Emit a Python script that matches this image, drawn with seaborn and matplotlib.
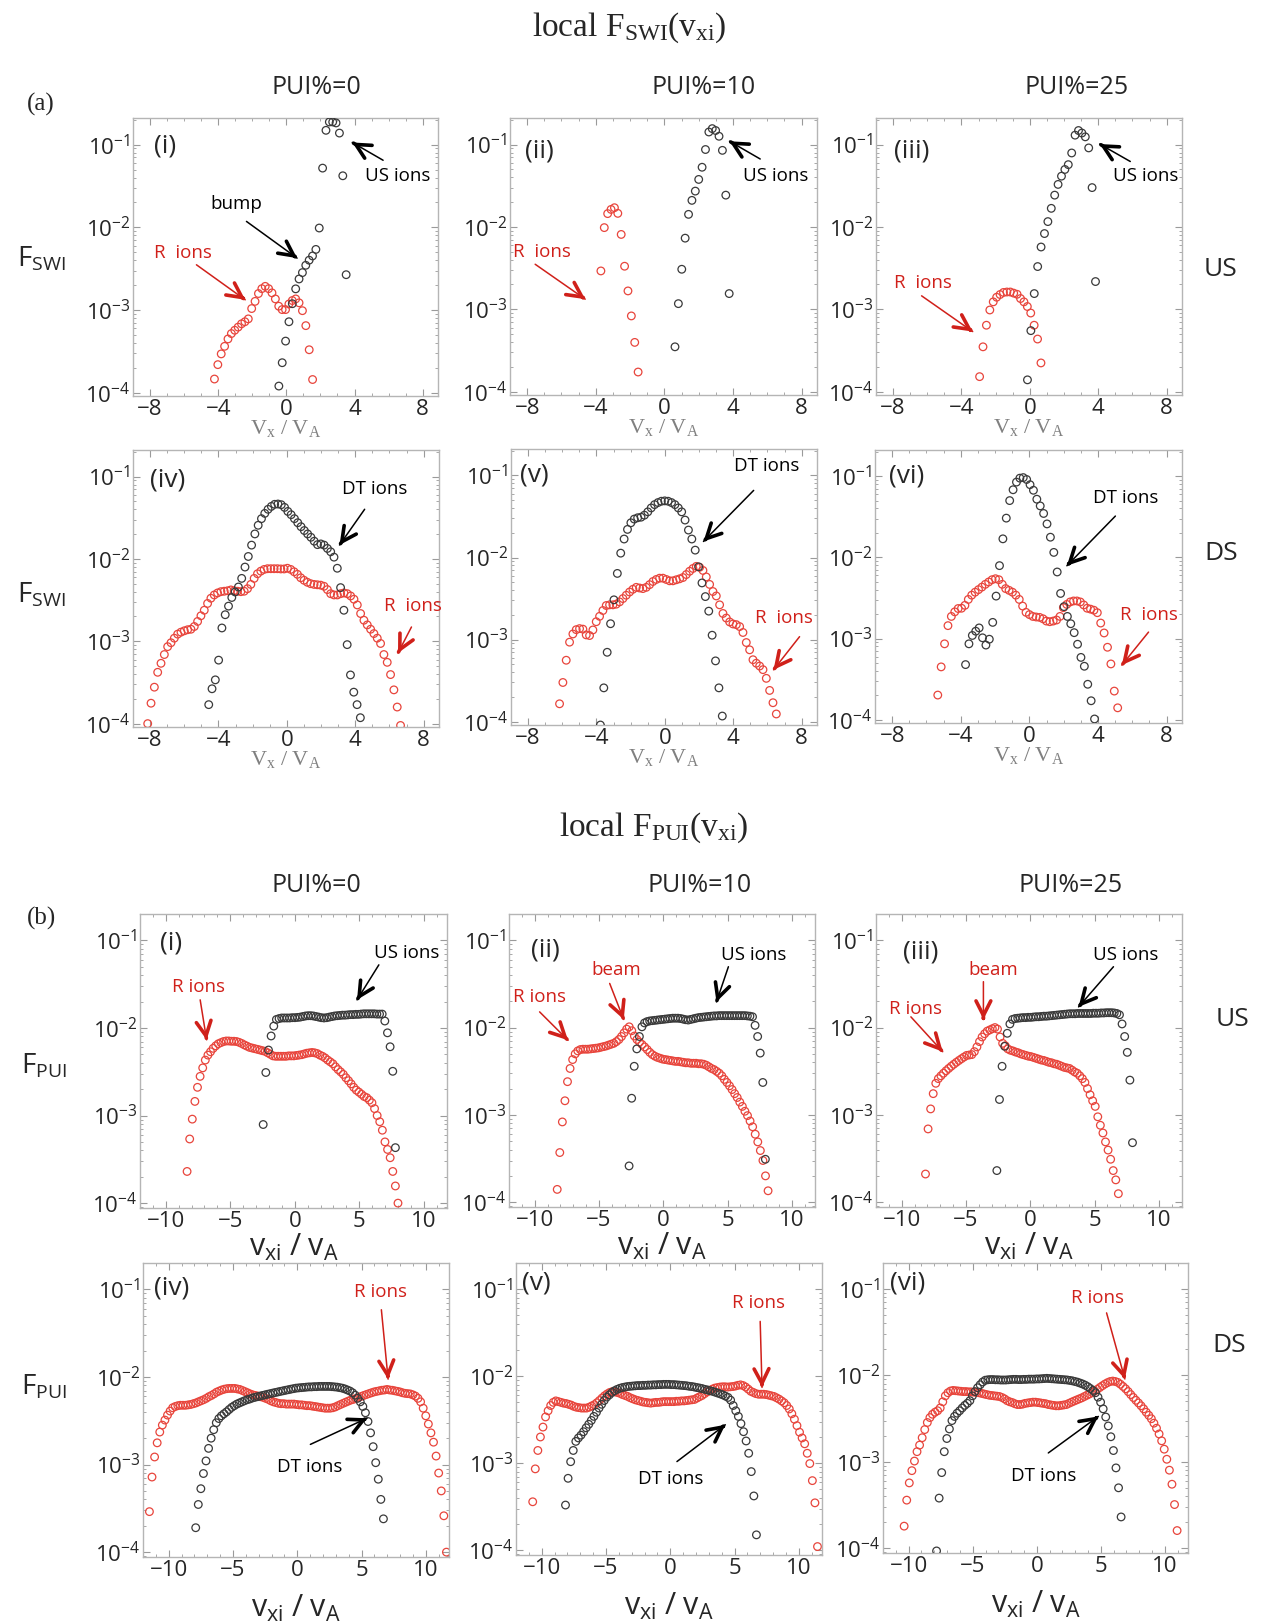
import numpy as np
import matplotlib.pyplot as plt
import seaborn as sns
from matplotlib.ticker import FuncFormatter, LogLocator, NullFormatter, AutoMinorLocator

sns.set_style('ticks')
plt.rcParams['font.family'] = ['Open Sans', 'DejaVu Sans']
plt.rcParams['mathtext.fontset'] = 'custom'
plt.rcParams['mathtext.rm'] = 'Liberation Serif'
plt.rcParams['mathtext.it'] = 'Liberation Serif:italic'
plt.rcParams['mathtext.bf'] = 'Liberation Serif:bold'
plt.rcParams['mathtext.sf'] = 'Open Sans'

BLK = '#3a3a3a'
RED = '#e8453c'
TRED = '#d0201a'

# ---- (a) local F_SWI, each series: first v, last v, values on a regular v grid ----
a1_us = (-0.44, 3.51, [1.2e-4, 2.3e-4, 4.2e-4, 7.2e-4, 1.19e-3, 1.8e-3, 2.37e-3, 2.83e-3, 3.47e-3, 4.0e-3,
                       4.5e-3, 5.4e-3, 9.8e-3, 5.2e-2, 0.149, 0.188, 0.188, 0.183, 0.138, 0.042, 2.67e-3])
a1_r = (-4.22, 1.54, [1.46e-4, 2.18e-4, 2.94e-4, 3.63e-4, 4.46e-4, 5.18e-4, 5.68e-4, 6.2e-4, 6.8e-4, 7.2e-4,
                      7.8e-4, 1.04e-3, 1.27e-3, 1.58e-3, 1.81e-3, 1.93e-3, 1.81e-3, 1.61e-3, 1.36e-3, 1.11e-3,
                      1.01e-3, 1.01e-3, 1.18e-3, 1.3e-3, 1.36e-3, 1.22e-3, 9.8e-4, 6.46e-4, 3.3e-4, 1.44e-4])
a2_us = (0.62, 3.78, [3.5e-4, 1.17e-3, 3.06e-3, 7.3e-3, 1.42e-2, 2.1e-2, 2.72e-2, 3.77e-2, 5.3e-2, 8.7e-2,
                      0.142, 0.156, 0.148, 0.126, 8.5e-2, 2.43e-2, 1.55e-3])
a2_r = (-3.70, -1.53, [2.92e-3, 9.8e-3, 1.45e-2, 1.63e-2, 1.71e-2, 1.46e-2, 8.1e-3, 3.33e-3, 1.67e-3, 8.3e-4,
                       3.96e-4, 1.73e-4])
a3_us = (-0.14, 3.84, [1.39e-4, 5.5e-4, 1.55e-3, 3.3e-3, 5.7e-3, 8.3e-3, 1.16e-2, 1.68e-2, 2.43e-2, 3.28e-2,
                       4.13e-2, 4.98e-2, 5.7e-2, 7.9e-2, 0.13, 0.148, 0.138, 0.124, 9.1e-2, 3.0e-2, 2.17e-3])
a3_r = (-2.94, 0.65, [1.52e-4, 3.5e-4, 6.4e-4, 9.8e-4, 1.23e-3, 1.4e-3, 1.51e-3, 1.6e-3, 1.62e-3, 1.62e-3,
                      1.57e-3, 1.52e-3, 1.35e-3, 1.23e-3, 1.08e-3, 9.0e-4, 6.4e-4, 4.35e-4, 2.23e-4])
a4_dt = (-4.57, 4.30, [1.7e-4, 2.65e-4, 3.4e-4, 5.9e-4, 1.45e-3, 2.1e-3, 2.67e-3, 3.4e-3, 3.97e-3, 4.56e-3,
                       5.8e-3, 7.96e-3, 1.07e-2, 1.47e-2, 2.01e-2, 2.56e-2, 3.08e-2, 3.57e-2, 4.0e-2, 4.34e-2,
                       4.6e-2, 4.64e-2, 4.55e-2, 4.22e-2, 3.77e-2, 3.44e-2, 3.08e-2, 2.75e-2, 2.46e-2, 2.21e-2,
                       2.01e-2, 1.83e-2, 1.64e-2, 1.49e-2, 1.52e-2, 1.47e-2, 1.34e-2, 1.22e-2, 1.05e-2, 7.7e-3,
                       4.48e-3, 2.38e-3, 9.1e-4, 3.9e-4, 2.41e-4, 1.7e-4, 1.18e-4])
a4_r = (-8.14, 6.65, [1.0e-4, 1.77e-4, 2.77e-4, 4.2e-4, 5.4e-4, 6.9e-4, 8.6e-4, 9.6e-4, 1.09e-3, 1.22e-3,
                      1.29e-3, 1.34e-3, 1.38e-3, 1.4e-3, 1.51e-3, 1.74e-3, 2.04e-3, 2.38e-3, 2.88e-3, 3.33e-3,
                      3.65e-3, 3.86e-3, 4.0e-3, 4.05e-3, 4.1e-3, 4.2e-3, 4.1e-3, 4.05e-3, 4.0e-3, 4.05e-3,
                      4.35e-3, 4.9e-3, 5.8e-3, 6.6e-3, 7.1e-3, 7.45e-3, 7.6e-3, 7.6e-3, 7.6e-3, 7.6e-3,
                      7.55e-3, 7.55e-3, 7.7e-3, 7.45e-3, 6.98e-3, 6.5e-3, 5.9e-3, 5.5e-3, 5.2e-3, 5.0e-3,
                      4.9e-3, 4.85e-3, 4.8e-3, 4.65e-3, 4.24e-3, 3.78e-3, 3.65e-3, 3.65e-3, 3.78e-3, 3.86e-3,
                      3.78e-3, 3.55e-3, 3.24e-3, 2.76e-3, 2.17e-3, 1.8e-3, 1.58e-3, 1.4e-3, 1.24e-3, 1.09e-3,
                      9.4e-4, 6.9e-4, 5.55e-4, 3.94e-4, 2.57e-4, 1.59e-4, 9.5e-5])
a5_dt = (-3.77, 3.36, [9.1e-5, 2.58e-4, 7.0e-4, 1.56e-3, 3.05e-3, 6.4e-3, 1.13e-2, 1.68e-2, 2.2e-2, 2.65e-2,
                       2.94e-2, 3.05e-2, 3.1e-2, 3.28e-2, 3.6e-2, 4.02e-2, 4.41e-2, 4.67e-2, 4.85e-2, 4.9e-2,
                       4.85e-2, 4.67e-2, 4.41e-2, 4.02e-2, 3.6e-2, 2.86e-2, 2.16e-2, 1.68e-2, 1.23e-2, 7.7e-3,
                       4.9e-3, 3.34e-3, 2.22e-3, 1.13e-3, 5.5e-4, 2.58e-4, 1.17e-4])
a5_r = (-6.16, 6.52, [1.65e-4, 3.0e-4, 5.6e-4, 9.3e-4, 1.17e-3, 1.32e-3, 1.36e-3, 1.34e-3, 1.14e-3, 1.12e-3,
                      1.31e-3, 1.65e-3, 1.92e-3, 2.26e-3, 2.6e-3, 2.65e-3, 2.65e-3, 2.7e-3, 2.88e-3, 3.16e-3,
                      3.47e-3, 3.8e-3, 4.1e-3, 4.33e-3, 4.25e-3, 4.18e-3, 4.33e-3, 4.67e-3, 5.1e-3, 5.4e-3,
                      5.6e-3, 5.6e-3, 5.4e-3, 5.2e-3, 5.2e-3, 5.35e-3, 5.5e-3, 5.7e-3, 6.2e-3, 6.8e-3,
                      7.35e-3, 7.8e-3, 7.6e-3, 6.96e-3, 5.8e-3, 4.7e-3, 3.85e-3, 3.4e-3, 2.65e-3, 2.08e-3,
                      1.83e-3, 1.64e-3, 1.55e-3, 1.52e-3, 1.44e-3, 1.22e-3, 9.2e-4, 7.5e-4, 5.68e-4, 5.15e-4,
                      4.76e-4, 4.3e-4, 3.37e-4, 2.4e-4, 1.7e-4, 1.24e-4])
a6_dt = (-3.72, 3.80, [4.77e-4, 8.6e-4, 1.09e-3, 1.23e-3, 1.35e-3, 1.02e-3, 8.3e-4, 9.8e-4, 1.58e-3, 3.33e-3,
                       7.9e-3, 1.69e-2, 3.04e-2, 5.0e-2, 6.8e-2, 8.45e-2, 9.45e-2, 9.6e-2, 9.1e-2, 7.85e-2,
                       6.7e-2, 5.2e-2, 4.3e-2, 3.47e-2, 2.58e-2, 1.77e-2, 1.15e-2, 6.6e-3, 3.59e-3, 2.47e-3,
                       1.87e-3, 1.52e-3, 1.18e-3, 8.5e-4, 5.85e-4, 4.55e-4, 2.73e-4, 1.71e-4, 1.02e-4])
a6_r = (-5.34, 5.15, [2.01e-4, 4.47e-4, 8.6e-4, 1.44e-3, 1.87e-3, 2.13e-3, 2.34e-3, 2.36e-3, 2.56e-3, 3.03e-3,
                      3.42e-3, 3.72e-3, 4.0e-3, 4.3e-3, 4.65e-3, 4.97e-3, 5.3e-3, 5.45e-3, 5.3e-3, 4.65e-3,
                      4.12e-3, 3.92e-3, 3.72e-3, 3.42e-3, 3.03e-3, 2.51e-3, 2.1e-3, 1.97e-3, 1.87e-3, 1.84e-3,
                      1.82e-3, 1.75e-3, 1.64e-3, 1.61e-3, 1.64e-3, 1.69e-3, 1.87e-3, 2.4e-3, 2.63e-3, 2.82e-3,
                      2.9e-3, 2.9e-3, 2.82e-3, 2.59e-3, 2.36e-3, 2.3e-3, 2.23e-3, 2.08e-3, 1.55e-3, 1.17e-3,
                      7.8e-4, 4.86e-4, 2.25e-4, 1.4e-4])

# ---- (b) local F_PUI ----
b1_us = (-2.45, 7.80, [7.9e-4, 3.1e-3, 5.6e-3, 8.1e-3, 1.05e-2, 1.25e-2, 1.28e-2, 1.3e-2, 1.3e-2, 1.3e-2,
                       1.3e-2, 1.31e-2, 1.31e-2, 1.32e-2, 1.33e-2, 1.35e-2, 1.37e-2, 1.38e-2, 1.38e-2, 1.37e-2,
                       1.35e-2, 1.33e-2, 1.31e-2, 1.3e-2, 1.31e-2, 1.33e-2, 1.35e-2, 1.37e-2, 1.38e-2, 1.39e-2,
                       1.4e-2, 1.4e-2, 1.41e-2, 1.42e-2, 1.42e-2, 1.43e-2, 1.43e-2, 1.44e-2, 1.45e-2, 1.45e-2,
                       1.45e-2, 1.45e-2, 1.45e-2, 1.44e-2, 1.44e-2, 1.44e-2, 1.2e-2, 8.8e-3, 6.1e-3, 3.2e-3,
                       4.3e-4])
b1_r = (-8.35, 8.00, [2.3e-4, 5.4e-4, 9.1e-4, 1.45e-3, 2.1e-3, 2.8e-3, 3.5e-3, 4.3e-3, 4.9e-3, 5.35e-3,
                      5.85e-3, 6.25e-3, 6.6e-3, 6.8e-3, 7.0e-3, 7.1e-3, 7.1e-3, 7.05e-3, 7.05e-3, 7.0e-3,
                      6.85e-3, 6.65e-3, 6.4e-3, 6.2e-3, 6.0e-3, 5.9e-3, 5.8e-3, 5.7e-3, 5.6e-3, 5.5e-3,
                      5.4e-3, 5.2e-3, 5.0e-3, 4.8e-3, 4.75e-3, 4.75e-3, 4.75e-3, 4.75e-3, 4.75e-3, 4.8e-3,
                      4.8e-3, 4.8e-3, 4.85e-3, 4.9e-3, 4.95e-3, 5.05e-3, 5.15e-3, 5.2e-3, 5.25e-3, 5.2e-3,
                      5.1e-3, 4.9e-3, 4.75e-3, 4.55e-3, 4.3e-3, 4.1e-3, 3.9e-3, 3.6e-3, 3.35e-3, 3.15e-3,
                      2.95e-3, 2.7e-3, 2.5e-3, 2.3e-3, 2.1e-3, 1.95e-3, 1.85e-3, 1.75e-3, 1.65e-3, 1.6e-3,
                      1.5e-3, 1.4e-3, 1.2e-3, 1.0e-3, 8.5e-4, 6.8e-4, 5.0e-4, 4.1e-4, 3.3e-4, 2.3e-4,
                      1.57e-4, 1.0e-4])
b2_us = (-2.66, 7.94, [2.6e-4, 1.55e-3, 3.6e-3, 5.7e-3, 7.9e-3, 1.02e-2, 1.13e-2, 1.17e-2, 1.19e-2, 1.2e-2,
                       1.21e-2, 1.22e-2, 1.23e-2, 1.24e-2, 1.25e-2, 1.26e-2, 1.27e-2, 1.28e-2, 1.28e-2, 1.28e-2,
                       1.27e-2, 1.25e-2, 1.23e-2, 1.22e-2, 1.24e-2, 1.26e-2, 1.28e-2, 1.3e-2, 1.31e-2, 1.32e-2,
                       1.33e-2, 1.34e-2, 1.35e-2, 1.36e-2, 1.36e-2, 1.37e-2, 1.37e-2, 1.37e-2, 1.37e-2, 1.37e-2,
                       1.37e-2, 1.37e-2, 1.37e-2, 1.37e-2, 1.37e-2, 1.37e-2, 1.36e-2, 1.35e-2, 1.33e-2, 1.06e-2,
                       7.9e-3, 5.1e-3, 2.35e-3, 3.1e-4])
b2_r = (-8.25, 8.15, [1.4e-4, 3.7e-4, 8.3e-4, 1.45e-3, 2.4e-3, 3.4e-3, 4.3e-3, 5.0e-3, 5.4e-3, 5.6e-3,
                      5.65e-3, 5.65e-3, 5.65e-3, 5.7e-3, 5.75e-3, 5.8e-3, 5.85e-3, 5.95e-3, 6.05e-3, 6.15e-3,
                      6.3e-3, 6.45e-3, 6.6e-3, 6.9e-3, 7.3e-3, 7.9e-3, 8.7e-3, 9.6e-3, 1.02e-2, 9.2e-3,
                      8.0e-3, 7.3e-3, 6.8e-3, 6.4e-3, 6.0e-3, 5.6e-3, 5.2e-3, 4.9e-3, 4.7e-3, 4.55e-3,
                      4.45e-3, 4.35e-3, 4.3e-3, 4.25e-3, 4.2e-3, 4.15e-3, 4.1e-3, 4.1e-3, 4.05e-3, 4.0e-3,
                      3.95e-3, 3.95e-3, 3.9e-3, 3.9e-3, 3.9e-3, 3.85e-3, 3.85e-3, 3.8e-3, 3.7e-3, 3.55e-3,
                      3.4e-3, 3.3e-3, 3.15e-3, 3.0e-3, 2.8e-3, 2.55e-3, 2.35e-3, 2.15e-3, 1.95e-3, 1.75e-3,
                      1.58e-3, 1.4e-3, 1.25e-3, 1.1e-3, 9.8e-4, 8.5e-4, 7.3e-4, 6.0e-4, 4.9e-4, 3.9e-4,
                      3.0e-4, 2.0e-4, 1.35e-4])
b3_us = (-2.60, 7.95, [2.3e-4, 1.5e-3, 3.6e-3, 6.1e-3, 8.6e-3, 1.1e-2, 1.24e-2, 1.27e-2, 1.28e-2, 1.29e-2,
                       1.3e-2, 1.3e-2, 1.31e-2, 1.31e-2, 1.32e-2, 1.33e-2, 1.33e-2, 1.34e-2, 1.35e-2, 1.35e-2,
                       1.36e-2, 1.37e-2, 1.38e-2, 1.39e-2, 1.4e-2, 1.41e-2, 1.42e-2, 1.43e-2, 1.44e-2, 1.44e-2,
                       1.44e-2, 1.45e-2, 1.45e-2, 1.45e-2, 1.45e-2, 1.45e-2, 1.45e-2, 1.46e-2, 1.46e-2, 1.46e-2,
                       1.47e-2, 1.47e-2, 1.48e-2, 1.48e-2, 1.48e-2, 1.47e-2, 1.45e-2, 1.4e-2, 1.1e-2, 7.9e-3,
                       5.2e-3, 2.5e-3, 4.8e-4])
b3_r = (-8.15, 6.85, [2.1e-4, 6.9e-4, 1.17e-3, 1.75e-3, 2.3e-3, 2.6e-3, 2.8e-3, 3.0e-3, 3.2e-3, 3.4e-3,
                      3.6e-3, 3.8e-3, 4.0e-3, 4.2e-3, 4.4e-3, 4.6e-3, 4.8e-3, 4.85e-3, 4.9e-3, 5.3e-3,
                      6.0e-3, 6.9e-3, 7.8e-3, 8.5e-3, 9.1e-3, 9.4e-3, 9.7e-3, 1.0e-2, 9.6e-3, 7.8e-3,
                      6.6e-3, 6.2e-3, 5.7e-3, 5.5e-3, 5.4e-3, 5.25e-3, 5.15e-3, 5.0e-3, 4.9e-3, 4.8e-3,
                      4.7e-3, 4.65e-3, 4.55e-3, 4.45e-3, 4.35e-3, 4.25e-3, 4.2e-3, 4.1e-3, 4.0e-3, 3.95e-3,
                      3.85e-3, 3.8e-3, 3.7e-3, 3.6e-3, 3.5e-3, 3.45e-3, 3.4e-3, 3.25e-3, 3.1e-3, 3.0e-3,
                      2.8e-3, 2.6e-3, 2.35e-3, 2.0e-3, 1.7e-3, 1.45e-3, 1.25e-3, 9.5e-4, 7.6e-4, 6.2e-4,
                      4.9e-4, 3.95e-4, 3.1e-4, 2.3e-4, 1.8e-4, 1.25e-4])
b4_dt = (-7.90, 6.70, [1.9e-4, 3.5e-4, 5.3e-4, 7.9e-4, 1.1e-3, 1.53e-3, 2.0e-3, 2.5e-3, 3.0e-3, 3.35e-3,
                       3.6e-3, 3.8e-3, 4.0e-3, 4.25e-3, 4.5e-3, 4.7e-3, 4.9e-3, 5.05e-3, 5.2e-3, 5.35e-3,
                       5.5e-3, 5.6e-3, 5.75e-3, 5.85e-3, 5.95e-3, 6.05e-3, 6.15e-3, 6.25e-3, 6.35e-3, 6.45e-3,
                       6.55e-3, 6.65e-3, 6.75e-3, 6.85e-3, 6.95e-3, 7.05e-3, 7.15e-3, 7.25e-3, 7.35e-3, 7.45e-3,
                       7.5e-3, 7.55e-3, 7.6e-3, 7.65e-3, 7.7e-3, 7.7e-3, 7.75e-3, 7.75e-3, 7.8e-3, 7.8e-3,
                       7.8e-3, 7.8e-3, 7.8e-3, 7.75e-3, 7.7e-3, 7.65e-3, 7.55e-3, 7.45e-3, 7.3e-3, 7.1e-3,
                       6.9e-3, 6.6e-3, 6.2e-3, 5.7e-3, 5.2e-3, 4.6e-3, 3.9e-3, 3.1e-3, 2.3e-3, 1.6e-3,
                       1.05e-3, 6.8e-4, 4.0e-4, 2.4e-4])
b4_r = (-11.50, 11.60, [2.9e-4, 7.2e-4, 1.22e-3, 1.77e-3, 2.35e-3, 2.82e-3, 3.22e-3, 3.67e-3, 4.08e-3, 4.45e-3,
                        4.6e-3, 4.7e-3, 4.75e-3, 4.75e-3, 4.75e-3, 4.8e-3, 4.85e-3, 4.95e-3, 5.05e-3, 5.2e-3,
                        5.35e-3, 5.5e-3, 5.7e-3, 5.95e-3, 6.15e-3, 6.4e-3, 6.7e-3, 6.9e-3, 7.1e-3, 7.25e-3,
                        7.35e-3, 7.4e-3, 7.4e-3, 7.4e-3, 7.3e-3, 7.2e-3, 7.0e-3, 6.8e-3, 6.6e-3, 6.4e-3,
                        6.25e-3, 6.15e-3, 6.05e-3, 5.95e-3, 5.85e-3, 5.7e-3, 5.55e-3, 5.35e-3, 5.2e-3, 5.1e-3,
                        5.0e-3, 4.95e-3, 4.95e-3, 4.9e-3, 4.9e-3, 4.9e-3, 4.9e-3, 4.85e-3, 4.8e-3, 4.8e-3,
                        4.75e-3, 4.7e-3, 4.7e-3, 4.65e-3, 4.6e-3, 4.55e-3, 4.5e-3, 4.45e-3, 4.4e-3, 4.4e-3,
                        4.4e-3, 4.45e-3, 4.55e-3, 4.7e-3, 4.85e-3, 5.0e-3, 5.15e-3, 5.3e-3, 5.45e-3, 5.55e-3,
                        5.7e-3, 5.85e-3, 6.0e-3, 6.15e-3, 6.3e-3, 6.45e-3, 6.6e-3, 6.75e-3, 6.85e-3, 6.95e-3,
                        7.05e-3, 7.1e-3, 7.2e-3, 7.1e-3, 7.05e-3, 6.95e-3, 6.85e-3, 6.75e-3, 6.6e-3, 6.5e-3,
                        6.45e-3, 6.4e-3, 6.25e-3, 6.05e-3, 5.7e-3, 5.2e-3, 4.4e-3, 3.6e-3, 2.9e-3, 2.3e-3,
                        1.8e-3, 1.25e-3, 8.0e-4, 5.0e-4, 2.6e-4, 1.0e-4])
b5_dt = (-8.15, 6.70, [3.3e-4, 6.7e-4, 1.04e-3, 1.4e-3, 1.78e-3, 1.95e-3, 2.1e-3, 2.3e-3, 2.55e-3, 2.8e-3,
                       3.1e-3, 3.45e-3, 3.85e-3, 4.3e-3, 4.75e-3, 5.25e-3, 5.75e-3, 6.1e-3, 6.5e-3, 6.8e-3,
                       7.05e-3, 7.25e-3, 7.4e-3, 7.5e-3, 7.6e-3, 7.65e-3, 7.7e-3, 7.75e-3, 7.8e-3, 7.8e-3,
                       7.85e-3, 7.85e-3, 7.9e-3, 7.9e-3, 7.95e-3, 7.95e-3, 8.0e-3, 8.0e-3, 8.05e-3, 8.05e-3,
                       8.05e-3, 8.0e-3, 8.0e-3, 7.95e-3, 7.9e-3, 7.85e-3, 7.8e-3, 7.75e-3, 7.65e-3, 7.6e-3,
                       7.5e-3, 7.4e-3, 7.3e-3, 7.2e-3, 7.05e-3, 6.95e-3, 6.8e-3, 6.7e-3, 6.55e-3, 6.4e-3,
                       6.25e-3, 6.1e-3, 5.9e-3, 5.7e-3, 5.3e-3, 4.6e-3, 4.0e-3, 3.45e-3, 2.85e-3, 2.3e-3,
                       1.8e-3, 1.3e-3, 8.0e-4, 4.2e-4, 1.5e-4])
b5_r = (-10.70, 11.45, [3.6e-4, 8.6e-4, 1.4e-3, 2.0e-3, 2.6e-3, 3.4e-3, 4.0e-3, 4.6e-3, 5.0e-3, 5.2e-3,
                        5.1e-3, 5.0e-3, 4.9e-3, 4.85e-3, 4.75e-3, 4.65e-3, 4.5e-3, 4.4e-3, 4.35e-3, 4.3e-3,
                        4.3e-3, 4.3e-3, 4.4e-3, 4.55e-3, 4.7e-3, 4.95e-3, 5.25e-3, 5.6e-3, 5.95e-3, 6.25e-3,
                        6.5e-3, 6.65e-3, 6.6e-3, 6.5e-3, 6.35e-3, 6.15e-3, 6.0e-3, 5.85e-3, 5.65e-3, 5.5e-3,
                        5.35e-3, 5.25e-3, 5.15e-3, 5.05e-3, 5.0e-3, 4.95e-3, 4.9e-3, 4.95e-3, 5.0e-3, 5.0e-3,
                        5.05e-3, 5.1e-3, 5.1e-3, 5.1e-3, 5.1e-3, 5.1e-3, 5.15e-3, 5.15e-3, 5.2e-3, 5.2e-3,
                        5.25e-3, 5.3e-3, 5.35e-3, 5.4e-3, 5.6e-3, 5.8e-3, 6.0e-3, 6.3e-3, 6.6e-3, 6.85e-3,
                        7.1e-3, 7.3e-3, 7.4e-3, 7.5e-3, 7.55e-3, 7.55e-3, 7.5e-3, 7.55e-3, 7.6e-3, 7.7e-3,
                        7.85e-3, 7.95e-3, 7.8e-3, 7.5e-3, 7.1e-3, 6.7e-3, 6.5e-3, 6.3e-3, 6.2e-3, 6.2e-3,
                        6.2e-3, 6.15e-3, 6.05e-3, 5.95e-3, 5.85e-3, 5.65e-3, 5.45e-3, 5.2e-3, 4.95e-3, 4.6e-3,
                        4.2e-3, 3.7e-3, 3.2e-3, 2.7e-3, 2.27e-3, 1.95e-3, 1.67e-3, 1.3e-3, 9.9e-4, 6.3e-4,
                        3.5e-4, 1.1e-4])
b6_dt = (-7.82, 6.58, [9.3e-5, 3.8e-4, 7.5e-4, 1.31e-3, 1.86e-3, 2.4e-3, 3.0e-3, 3.35e-3, 3.65e-3, 3.9e-3,
                       4.2e-3, 4.5e-3, 4.75e-3, 5.1e-3, 5.8e-3, 6.5e-3, 7.2e-3, 7.8e-3, 8.4e-3, 8.8e-3,
                       8.9e-3, 8.95e-3, 8.95e-3, 8.9e-3, 8.9e-3, 8.85e-3, 8.85e-3, 8.85e-3, 8.9e-3, 8.95e-3,
                       9.0e-3, 9.0e-3, 8.95e-3, 8.95e-3, 9.0e-3, 9.0e-3, 9.05e-3, 9.05e-3, 9.05e-3, 9.1e-3,
                       9.1e-3, 9.15e-3, 9.2e-3, 9.25e-3, 9.2e-3, 9.15e-3, 9.1e-3, 9.05e-3, 9.0e-3, 8.95e-3,
                       8.9e-3, 8.85e-3, 8.75e-3, 8.65e-3, 8.5e-3, 8.35e-3, 8.15e-3, 7.95e-3, 7.7e-3, 7.4e-3,
                       7.05e-3, 6.7e-3, 6.3e-3, 5.6e-3, 4.9e-3, 4.1e-3, 3.3e-3, 2.6e-3, 1.95e-3, 1.35e-3,
                       8.5e-4, 5.0e-4, 2.3e-4])
b6_r = (-10.35, 10.95, [1.8e-4, 3.6e-4, 5.7e-4, 7.9e-4, 1.02e-3, 1.31e-3, 1.56e-3, 1.9e-3, 2.36e-3, 2.85e-3,
                        3.25e-3, 3.55e-3, 3.75e-3, 3.9e-3, 4.2e-3, 4.95e-3, 5.8e-3, 6.3e-3, 6.6e-3, 6.7e-3,
                        6.65e-3, 6.6e-3, 6.55e-3, 6.5e-3, 6.5e-3, 6.45e-3, 6.45e-3, 6.4e-3, 6.35e-3, 6.3e-3,
                        6.2e-3, 6.1e-3, 6.0e-3, 5.9e-3, 5.85e-3, 5.8e-3, 5.75e-3, 5.7e-3, 5.55e-3, 5.35e-3,
                        5.1e-3, 4.95e-3, 4.85e-3, 4.7e-3, 4.6e-3, 4.6e-3, 4.65e-3, 4.75e-3, 4.8e-3, 4.85e-3,
                        4.9e-3, 4.9e-3, 4.85e-3, 4.8e-3, 4.75e-3, 4.7e-3, 4.6e-3, 4.55e-3, 4.5e-3, 4.45e-3,
                        4.45e-3, 4.5e-3, 4.55e-3, 4.6e-3, 4.75e-3, 4.9e-3, 5.05e-3, 5.2e-3, 5.35e-3, 5.5e-3,
                        5.7e-3, 5.9e-3, 6.1e-3, 6.35e-3, 6.6e-3, 6.9e-3, 7.25e-3, 7.6e-3, 7.95e-3, 8.25e-3,
                        8.5e-3, 8.6e-3, 8.5e-3, 8.3e-3, 7.9e-3, 7.45e-3, 7.0e-3, 6.5e-3, 6.0e-3, 5.55e-3,
                        5.15e-3, 4.8e-3, 4.45e-3, 4.1e-3, 3.75e-3, 3.45e-3, 3.15e-3, 2.8e-3, 2.45e-3, 2.1e-3,
                        1.75e-3, 1.4e-3, 1.07e-3, 8.0e-4, 5.5e-4, 3.2e-4, 1.6e-4])

# panel rects in pixels (left, top, right, bottom)
W, H = 1265, 1623
rects = {
    'a1': (133, 118, 438, 396), 'a2': (510, 118, 817, 395), 'a3': (876, 118, 1182, 395),
    'a4': (133, 450, 439, 727), 'a5': (511, 449, 817, 725), 'a6': (875, 450, 1182, 723),
    'b1': (140, 914, 447, 1208), 'b2': (509, 914, 815, 1207), 'b3': (876, 914, 1182, 1207),
    'b4': (143, 1263, 449, 1557), 'b5': (516, 1263, 822, 1555), 'b6': (883, 1263, 1188, 1553),
}

# annotations: text, text pos, arrow tail, arrow head, colour (axes fraction)
notes = {
    'a1': [('US ions', (0.869, 0.79), (0.82, 0.848), (0.719, 0.912), 'k'),
           ('bump', (0.339, 0.69), (0.372, 0.628), (0.538, 0.496), 'k'),
           ('R  ions', (0.164, 0.516), (0.208, 0.472), (0.368, 0.346), 'r')],
    'a2': [('US ions', (0.864, 0.789), (0.815, 0.852), (0.715, 0.916), 'k'),
           ('R  ions', (0.103, 0.518), (0.082, 0.472), (0.245, 0.346), 'r')],
    'a3': [('US ions', (0.88, 0.789), (0.831, 0.843), (0.731, 0.906), 'k'),
           ('R  ions', (0.155, 0.406), (0.149, 0.358), (0.316, 0.229), 'r')],
    'a4': [('DT ions', (0.79, 0.861), (0.757, 0.786), (0.675, 0.657), 'k'),
           ('R  ions', (0.915, 0.437), (0.91, 0.361), (0.866, 0.267), 'r')],
    'a5': [('DT ions', (0.836, 0.937), (0.793, 0.85), (0.629, 0.665), 'k'),
           ('R  ions', (0.891, 0.387), (0.943, 0.32), (0.858, 0.2), 'r')],
    'a6': [('DT ions', (0.815, 0.824), (0.783, 0.758), (0.625, 0.576), 'k'),
           ('R  ions', (0.891, 0.394), (0.891, 0.333), (0.804, 0.212), 'r')],
    'b1': [('US ions', (0.87, 0.866), (0.778, 0.827), (0.707, 0.708), 'k'),
           ('R ions', (0.19, 0.753), (0.196, 0.708), (0.217, 0.572), 'r')],
    'b2': [('US ions', (0.798, 0.86), (0.717, 0.82), (0.678, 0.70), 'k'),
           ('beam', (0.351, 0.809), (0.329, 0.763), (0.375, 0.64), 'r'),
           ('R ions', (0.10, 0.718), (0.10, 0.666), (0.193, 0.569), 'r')],
    'b3': [('US ions', (0.815, 0.86), (0.776, 0.82), (0.662, 0.683), 'k'),
           ('beam', (0.384, 0.809), (0.351, 0.769), (0.351, 0.64), 'r'),
           ('R ions', (0.128, 0.675), (0.114, 0.649), (0.218, 0.53), 'r')],
    'b4': [('R ions', (0.776, 0.903), (0.779, 0.841), (0.801, 0.605), 'r'),
           ('DT ions', (0.545, 0.305), (0.547, 0.383), (0.732, 0.472), 'k')],
    'b5': [('R ions', (0.793, 0.863), (0.798, 0.80), (0.804, 0.574), 'r'),
           ('DT ions', (0.504, 0.259), (0.526, 0.32), (0.684, 0.446), 'k')],
    'b6': [('R ions', (0.702, 0.879), (0.733, 0.828), (0.793, 0.60), 'r'),
           ('DT ions', (0.528, 0.264), (0.542, 0.345), (0.706, 0.471), 'k')],
}
labels_pos = {'a1': ('(i)', 0.068, 0.90), 'a2': ('(ii)', 0.049, 0.88), 'a3': ('(iii)', 0.059, 0.88),
              'a4': ('(iv)', 0.054, 0.89), 'a5': ('(v)', 0.029, 0.907), 'a6': ('(vi)', 0.047, 0.903),
              'b1': ('(i)', 0.065, 0.90), 'b2': ('(ii)', 0.073, 0.877), 'b3': ('(iii)', 0.089, 0.871),
              'b4': ('(iv)', 0.035, 0.915), 'b5': ('(v)', 0.02, 0.931), 'b6': ('(vi)', 0.024, 0.931)}

series = {
    'a1': [a1_r, a1_us], 'a2': [a2_r, a2_us], 'a3': [a3_r, a3_us],
    'a4': [a4_r, a4_dt], 'a5': [a5_r, a5_dt], 'a6': [a6_r, a6_dt],
    'b1': [b1_r, b1_us], 'b2': [b2_r, b2_us], 'b3': [b3_r, b3_us],
    'b4': [b4_r, b4_dt], 'b5': [b5_r, b5_dt], 'b6': [b6_r, b6_dt],
}

fig = plt.figure(figsize=(W / 100, H / 100), dpi=100)


def arrow(ax, tail, head, col):
    ax.annotate('', xy=head, xytext=tail, xycoords='axes fraction',
                arrowprops=dict(arrowstyle='-', color=col, lw=1.1, shrinkA=0, shrinkB=0))
    back = (head[0] - 0.04 * (head[0] - tail[0]), head[1] - 0.04 * (head[1] - tail[1]))
    ax.annotate('', xy=head, xytext=back, xycoords='axes fraction',
                arrowprops=dict(arrowstyle='->,head_length=0.75,head_width=0.38', color=col,
                                lw=2.6, shrinkA=0, shrinkB=0, mutation_scale=14))


for key, (l, t, r, b) in rects.items():
    ax = fig.add_axes([l / W, 1 - b / H, (r - l) / W, (b - t) / H])
    top = key.startswith('a')
    for k, (x0, x1, ys) in enumerate(series[key]):
        col = RED if k == 0 else BLK
        xs = np.linspace(x0, x1, len(ys))
        sns.scatterplot(x=xs, y=ys, ax=ax, marker='o', s=30, color=col, facecolor='none',
                        edgecolor=col, linewidth=0.9, legend=False, zorder=3 if k else 2)
    ax.set_yscale('log')
    if top:
        ax.set_ylim(9.1e-5, 0.21)
        ax.set_xlim(-9.0, 8.9)
        ax.set_xticks([-8, -4, 0, 4, 8])
        ax.xaxis.set_minor_locator(AutoMinorLocator(4))
        ax.set_xlabel(r'V$_{\mathrm{x}}$ / V$_{\mathrm{A}}$', family='Liberation Serif',
                      fontsize=16, color='#808080', labelpad=-1)
    else:
        ax.set_ylim(8.8e-5, 0.2)
        ax.set_xlim(-12, 11.8)
        ax.set_xticks([-10, -5, 0, 5, 10])
        ax.xaxis.set_minor_locator(AutoMinorLocator(5))
        pad = 0 if key in ('b1', 'b2', 'b3') else 9
        ax.set_xlabel(r'$\mathsf{v_{xi}\ /\ v_{A}}$', fontsize=22, labelpad=pad)
    ax.set_yticks([1e-4, 1e-3, 1e-2, 1e-1])
    ax.yaxis.set_major_formatter(FuncFormatter(lambda v, p: r'$\mathsf{10^{%d}}$' % round(np.log10(v))))
    ax.yaxis.set_minor_locator(LogLocator(base=10, subs=np.arange(2, 10), numticks=20))
    ax.yaxis.set_minor_formatter(NullFormatter())
    ax.set_ylabel('')
    ax.tick_params(which='both', direction='in', top=True, right=True, color='#9a9a9a')
    ax.tick_params(which='major', length=5, width=0.8)
    ax.tick_params(which='minor', length=2.5, width=0.6)
    ax.tick_params(axis='x', labelsize=16, pad=2)
    ax.tick_params(axis='y', labelsize=16, pad=2)
    for s in ax.spines.values():
        s.set_color('#b5b5b5')
        s.set_linewidth(1.0)
    lab, lx, ly = labels_pos[key]
    ax.text(lx, ly, lab, transform=ax.transAxes, fontsize=19, va='center', ha='left')
    for txt, tp, tail, head, c in notes[key]:
        tc = TRED if c == 'r' else 'black'
        ax.text(tp[0], tp[1], txt, transform=ax.transAxes, fontsize=13.5, color=tc, ha='center', va='center')
        arrow(ax, tail, head, tc)


def ftext(x, y, s, **kw):
    fig.text(x / W, 1 - y / H, s, ha='center', va='center', **kw)


ftext(629, 28, r'local F$_{\mathrm{SWI}}$(v$_{\mathrm{xi}}$)', family='Liberation Serif', fontsize=24)
ftext(654, 828, r'local F$_{\mathrm{PUI}}$(v$_{\mathrm{xi}}$)', family='Liberation Serif', fontsize=24)
ftext(41, 104, '(a)', family='Liberation Serif', fontsize=18)
ftext(41, 918, '(b)', family='Liberation Serif', fontsize=18)
for x, y, s in [(316, 88, 'PUI%=0'), (704, 88, 'PUI%=10'), (1077, 88, 'PUI%=25'),
                (316, 885, 'PUI%=0'), (700, 885, 'PUI%=10'), (1071, 885, 'PUI%=25')]:
    ftext(x, y, s, fontsize=18)
for x, y, s in [(41, 259, r'$\mathsf{F_{SWI}}$'), (41, 595, r'$\mathsf{F_{SWI}}$'),
                (44, 1066, r'$\mathsf{F_{PUI}}$'), (44, 1387, r'$\mathsf{F_{PUI}}$')]:
    ftext(x, y, s, fontsize=20)
for x, y, s in [(1221, 269, 'US'), (1221, 554, 'DS'), (1232, 1020, 'US'), (1229, 1346, 'DS')]:
    ftext(x, y, s, fontsize=19)

fig.savefig('out.png', dpi=100)
